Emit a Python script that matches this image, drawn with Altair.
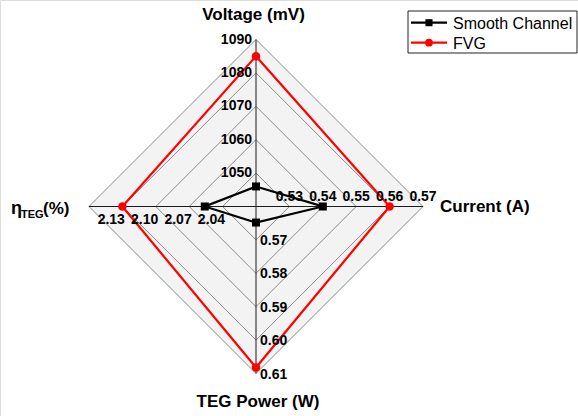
import math

import altair as alt
import pandas as pd

# ---- data -----------------------------------------------------------------
axis_names = ["Voltage (mV)", "Current (A)", "TEG Power (W)", "ηTEG(%)"]
axis_angles = [90, 0, -90, 180]          # direction of each spoke, degrees CCW from east
axis_lo = [1040, 0.52, 0.56, 2.00]       # value at the centre
axis_hi = [1090, 0.57, 0.61, 2.15]       # value at the outer ring
axis_formats = ["d", ".2f", ".2f", ".2f"]
tick_values = [
    [1050, 1060, 1070, 1080, 1090],
    [0.53, 0.54, 0.55, 0.56, 0.57],
    [0.57, 0.58, 0.59, 0.60, 0.61],
    [2.04, 2.07, 2.10, 2.13],
]

series_names = ["Smooth Channel", "FVG"]
smooth_channel = [1046, 0.540, 0.5648, 2.046]
fvg = [1085, 0.560, 0.6082, 2.120]
series_values = [smooth_channel, fvg]
series_colors = ["#000000", "#ff0000"]
series_shapes = ["square", "circle"]
series_sizes = [64, 72]

ring_levels = [0.2, 0.4, 0.6, 0.8, 1.0]

# ---- geometry -------------------------------------------------------------
W, H = 578, 416
R, CX, CY = 167, 256, 206.5
FONT = "Liberation Sans"


def polar(i, v):
    r = (v - axis_lo[i]) / (axis_hi[i] - axis_lo[i])
    t = math.radians(axis_angles[i])
    return r * math.cos(t), r * math.sin(t)


xs = alt.Scale(domain=[-CX / R, (W - CX) / R], nice=False, zero=False)
ys = alt.Scale(domain=[-(H - CY) / R, CY / R], nice=False, zero=False)
X = lambda f: alt.X(f, type="quantitative", scale=xs, axis=None)
Y = lambda f: alt.Y(f, type="quantitative", scale=ys, axis=None)

# grey web background
web_fill = pd.DataFrame({"x": [-1, 0, 1], "top": [0, 1, 0], "bot": [0, -1, 0]})
fill_layer = alt.Chart(web_fill).mark_area(color="#f3f3f3", opacity=1).encode(
    x=X("x"), y=Y("top"), y2="bot"
)

ring_rows = []
for lv in ring_levels:
    corners = [(0, lv), (lv, 0), (0, -lv), (-lv, 0), (0, lv)]
    for k, (px, py) in enumerate(corners):
        ring_rows.append({"level": lv, "k": k, "x": px, "y": py})
ring_layer = alt.Chart(pd.DataFrame(ring_rows)).mark_line(
    stroke="#8a8a8a", strokeWidth=1
).encode(x=X("x"), y=Y("y"), detail="level:N", order="k:Q")

spoke_rows = []
for i in range(len(axis_names)):
    ex, ey = polar(i, axis_hi[i])
    spoke_rows.append({"x": 0, "y": 0, "x2": ex, "y2": ey})
spoke_layer = alt.Chart(pd.DataFrame(spoke_rows)).mark_rule(
    color="#1a1a1a", strokeWidth=1
).encode(x=X("x"), y=Y("y"), x2="x2", y2="y2")

# series polygons and markers
series_rows = []
for name, vals in zip(series_names, series_values):
    for k in range(len(vals) + 1):
        i = k % len(vals)
        px, py = polar(i, vals[i])
        series_rows.append({"series": name, "k": k, "x": px, "y": py, "value": vals[i]})
series_df = pd.DataFrame(series_rows)
color_scale = alt.Scale(domain=series_names, range=series_colors)

line_layer = alt.Chart(series_df).mark_line(strokeWidth=2.2).encode(
    x=X("x"), y=Y("y"),
    color=alt.Color("series:N", scale=color_scale, legend=None),
    detail="series:N", order="k:Q",
)
point_layers = []
for name, shape, size in zip(series_names, series_shapes, series_sizes):
    point_layers.append(
        alt.Chart(series_df[(series_df.series == name) & (series_df.k < 4)])
        .mark_point(filled=True, shape=shape, size=size, opacity=1)
        .encode(x=X("x"), y=Y("y"),
                color=alt.Color("series:N", scale=color_scale, legend=None))
    )

# tick labels along each spoke
tick_rows = []
for i, vals in enumerate(tick_values):
    for v in vals:
        px, py = polar(i, v)
        tick_rows.append({"axis": i, "x": px, "y": py, "label": format(v, axis_formats[i])})
tick_df = pd.DataFrame(tick_rows)
tick_style = [
    dict(align="right", baseline="middle", dx=-4, dy=0),
    dict(align="center", baseline="alphabetic", dx=0, dy=-6),
    dict(align="left", baseline="middle", dx=4, dy=1),
    dict(align="center", baseline="alphabetic", dx=0, dy=17.5),
]
tick_layers = [
    alt.Chart(tick_df[tick_df.axis == i]).mark_text(
        font=FONT, fontSize=14, fontWeight="bold", color="#000", **st
    ).encode(x=X("x"), y=Y("y"), text="label:N")
    for i, st in enumerate(tick_style)
]


def label(text, x, y, size=17, weight="bold", align="left"):
    return alt.Chart(pd.DataFrame({"t": [text]})).mark_text(
        font=FONT, fontSize=size, fontWeight=weight, align=align,
        baseline="alphabetic", color="#000",
    ).encode(x=alt.value(x), y=alt.value(y), text="t:N")


title_layers = [
    label("Voltage (mV)", 253.5, 20, align="center"),
    label("Current (A)", 440, 212),
    label("TEG Power (W)", 258, 407, align="center"),
    label("η", 11, 214, size=18),
    label("TEG", 21, 218, size=11),
    label("(%)", 43, 214),
]

# legend box
legend_layers = [
    alt.Chart(pd.DataFrame({"a": [0]})).mark_rect(
        fill="white", stroke="#222", strokeWidth=1
    ).encode(x=alt.value(408), x2=alt.value(577), y=alt.value(11), y2=alt.value(53))
]
for j, (name, col, shape) in enumerate(zip(series_names, series_colors, series_shapes)):
    ly = 22.7 + 20 * j
    legend_layers.append(
        alt.Chart(pd.DataFrame({"s": [name]})).mark_rule(color=col, strokeWidth=2.2)
        .encode(x=alt.value(411), x2=alt.value(447), y=alt.value(ly))
    )
    legend_layers.append(
        alt.Chart(pd.DataFrame({"s": [name]})).mark_point(
            filled=True, shape=shape, size=50 if shape == "square" else 60,
            color=col, opacity=1,
        ).encode(x=alt.value(429), y=alt.value(ly))
    )
    legend_layers.append(label(name, 453, ly + 5.8, size=16, weight="normal"))

chart = (
    alt.layer(
        fill_layer, ring_layer, spoke_layer, line_layer, *point_layers,
        *tick_layers, *title_layers, *legend_layers,
    )
    .properties(width=W, height=H, padding=0, autosize=alt.AutoSizeParams(type="none"))
    .configure_view(stroke=None)
    .configure(background="white")
)

chart.save("out.html", embed_options={"renderer": "svg", "actions": False})
